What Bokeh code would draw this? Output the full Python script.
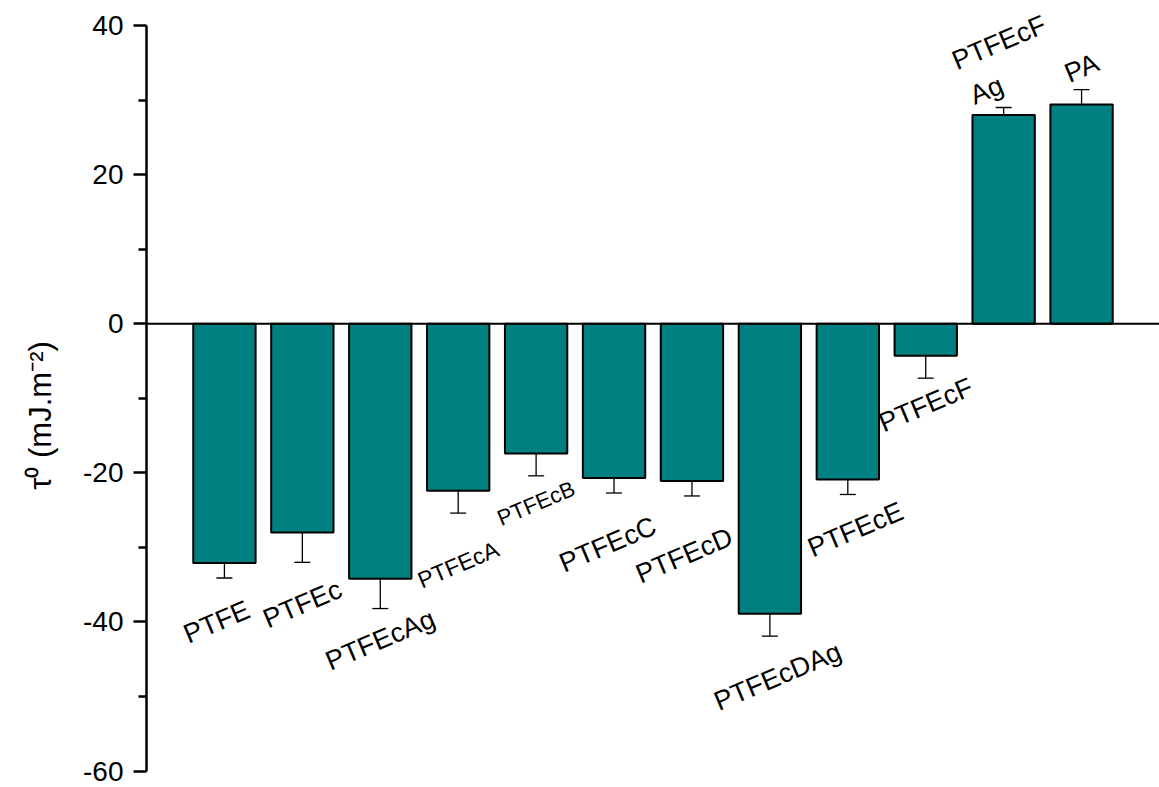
from bokeh.plotting import figure
from bokeh.models import ColumnDataSource, Whisker, Span, LinearAxis, FixedTicker, Range1d
from bokeh.core.properties import value
from bokeh.embed import file_html
from bokeh.resources import INLINE
import math

# Surface free energy term per sample
samples = ["PTFE", "PTFEc", "PTFEcAg", "PTFEcA", "PTFEcB", "PTFEcC",
           "PTFEcD", "PTFEcDAg", "PTFEcE", "PTFEcF", "PTFEcFAg", "PA"]
tau0 = [-32.1, -28.0, -34.2, -22.4, -17.4, -20.7, -21.1, -38.9, -20.9, -4.3, 28.0, 29.4]
err = [2.0, 4.0, 4.0, 3.0, 3.0, 2.0, 2.0, 3.0, 2.0, 3.0, 1.0, 2.0]

# Category label text and where each one sits (data units)
label_text = ["PTFE", "PTFEc", "PTFEcAg", "PTFEcA", "PTFEcB", "PTFEcC",
              "PTFEcD", "PTFEcDAg", "PTFEcE", "PTFEcF", "PTFEcF", "Ag", "PA"]
label_x = [0.90, 2.0, 3.0, 4.0, 5.0, 5.92, 6.9, 8.1, 9.1, 10.0, 10.94, 10.78, 12.0]
label_y = [-40.0, -37.6, -42.4, -32.3, -24.1, -29.6, -31.1, -47.3, -27.6, -10.9, 37.7, 31.3, 34.3]
label_size = ["27px", "27px", "27px", "23px", "22px", "27px", "27px", "27px", "27px", "27px", "27px", "27px", "27px"]

y_ticks = [-60, -40, -20, 0, 20, 40]
y_minor = [-50, -30, -10, 10, 30]

FONT = "Liberation Sans"
W, H = 1159, 787

xs = list(range(1, len(samples) + 1))
src = ColumnDataSource(dict(
    x=xs, top=tau0,
    upper=[v + e for v, e in zip(tau0, err)],
    lower=[v - e for v, e in zip(tau0, err)],
))

# the frame reaches a little past the axis ends so the outer labels are not clipped
p = figure(width=W, height=H, output_backend="svg", toolbar_location=None,
           x_range=Range1d(0, 13), y_range=Range1d(-62.2, 43.35),
           x_axis_location=None, y_axis_location=None,
           min_border_left=146, min_border_right=0, min_border_top=0, min_border_bottom=0)
p.outline_line_color = None
p.grid.visible = False
p.background_fill_color = "white"
p.border_fill_color = "white"

p.vbar(x="x", top="top", bottom=0, width=0.8, source=src,
       fill_color="#008080", line_color="black", line_width=2)

p.add_layout(Span(location=0, dimension="width", line_color="black", line_width=2))

wh = Whisker(base="x", upper="upper", lower="lower", source=src,
             line_color="black", line_width=1.3)
for head in (wh.upper_head, wh.lower_head):
    head.size = 16
    head.line_width = 1.3
    head.line_color = "black"
p.add_layout(wh)

ax = LinearAxis(ticker=FixedTicker(ticks=y_ticks, minor_ticks=y_minor), bounds=(-60, 40))
ax.major_label_overrides = {t: str(t) for t in y_ticks}
ax.axis_line_width = 2.5
ax.major_tick_line_width = 2.5
ax.minor_tick_line_width = 2.5
ax.major_tick_out = 13
ax.major_tick_in = 0
ax.minor_tick_out = 8
ax.minor_tick_in = 0
ax.major_label_standoff = 10
ax.major_label_text_font = FONT
ax.major_label_text_font_size = "28px"
ax.major_label_text_color = "black"
# trailing no-break spaces push the centred title a little below the axis midpoint
ax.axis_label = "τ⁰ (mJ.m⁻²)" + "\u00a0" * 5
ax.axis_label_text_font = FONT
ax.axis_label_text_font_size = "31px"
ax.axis_label_text_font_style = "normal"
ax.axis_label_text_color = "black"
ax.axis_label_standoff = 22
p.add_layout(ax, "left")

lsrc = ColumnDataSource(dict(x=label_x, y=label_y, t=label_text, s=label_size))
p.text(x="x", y="y", text="t", source=lsrc, angle=math.radians(23),
       text_font=value(FONT), text_font_size="s", text_align="center",
       text_baseline="middle", text_color="black")

open("out.html", "w").write(file_html(p, INLINE))
